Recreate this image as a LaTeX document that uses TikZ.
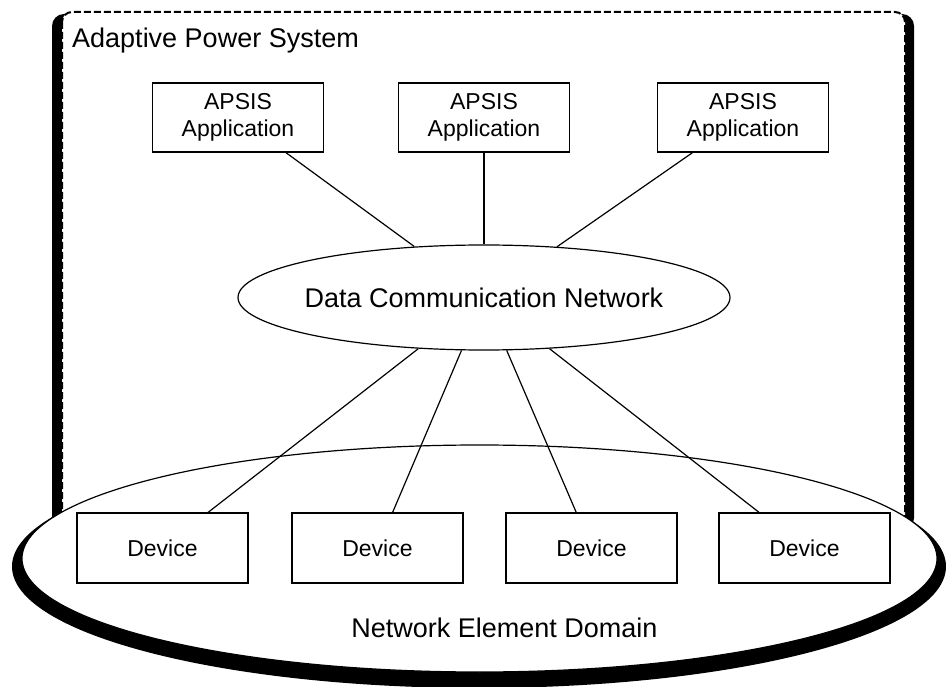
\documentclass[tikz,border=0pt]{standalone}
\usepackage{fontspec}
\setmainfont{Liberation Sans}
\usetikzlibrary{shapes.geometric}
\begin{document}
\begin{tikzpicture}[x=1pt,y=-1pt,
  appbox/.style={draw=black,line width=1.2pt,fill=white,minimum width=171pt,
    minimum height=69pt,inner sep=0pt,align=center,
    font=\fontsize{23}{27}\selectfont},
  devbox/.style={draw=black,line width=1.2pt,fill=white,minimum width=171pt,
    minimum height=70pt,inner sep=0pt,font=\fontsize{23}{27}\selectfont},
  cloud/.style={ellipse,draw=black,line width=1.2pt,fill=white,inner sep=0pt,
    minimum width=492pt,minimum height=105pt},
  bigtext/.style={inner sep=0pt,font=\fontsize{27}{32}\selectfont},
  wire/.style={draw=black,line width=1.2pt}]
\useasboundingbox (0,0) rectangle (946,687);

% system frame: dark side bands behind a dashed white panel
\fill[black,rounded corners=12pt] (52,14) rectangle (914,530);
\draw[fill=white,line width=2pt,dash pattern=on 7pt off 3pt,rounded corners=10pt]
  (62,12) rectangle (905,530);
\node[bigtext,anchor=base west] (title) at (72,48) {Adaptive Power System};

% network element domain: raised disc
\fill[black] (479,566.5) ellipse [x radius=467pt,y radius=121.5pt];
\draw[fill=white,line width=1.2pt] (479.5,558.5) ellipse [x radius=457.5pt,y radius=113.5pt];
\node[bigtext,anchor=base] (ned) at (504.5,637) {Network Element Domain};

% data communication network
\node[cloud,label={[bigtext]center:Data Communication Network}] (dcn) at (484,297.5) {};

% applications
\node[appbox] (a1) at (238,117.5) {APSIS\\Application};
\node[appbox] (a2) at (484,117.5) {APSIS\\Application};
\node[appbox] (a3) at (743,117.5) {APSIS\\Application};

% devices
\node[devbox] (d1) at (162.5,548) {Device};
\node[devbox] (d2) at (377.5,548) {Device};
\node[devbox] (d3) at (591.5,548) {Device};
\node[devbox] (d4) at (804.5,548) {Device};

% links to the network
\foreach \n in {a1,a2,a3,d1,d2,d3,d4}
  \draw[wire] (\n) -- (dcn);
\end{tikzpicture}
\end{document}
